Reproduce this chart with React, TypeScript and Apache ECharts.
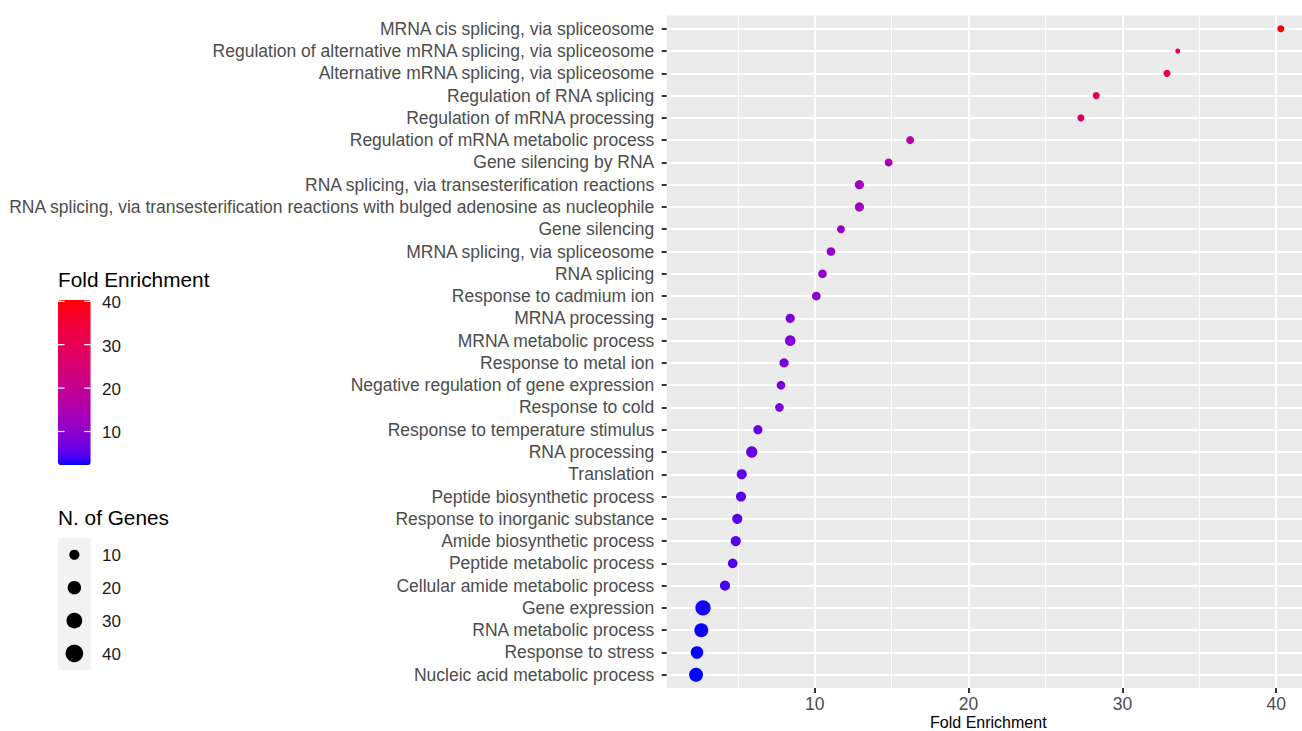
import { useEffect, useRef } from "react";
import * as echarts from "echarts";

const categories = [
  "MRNA cis splicing, via spliceosome",
  "Regulation of alternative mRNA splicing, via spliceosome",
  "Alternative mRNA splicing, via spliceosome",
  "Regulation of RNA splicing",
  "Regulation of mRNA processing",
  "Regulation of mRNA metabolic process",
  "Gene silencing by RNA",
  "RNA splicing, via transesterification reactions",
  "RNA splicing, via transesterification reactions with bulged adenosine as nucleophile",
  "Gene silencing",
  "MRNA splicing, via spliceosome",
  "RNA splicing",
  "Response to cadmium ion",
  "MRNA processing",
  "MRNA metabolic process",
  "Response to metal ion",
  "Negative regulation of gene expression",
  "Response to cold",
  "Response to temperature stimulus",
  "RNA processing",
  "Translation",
  "Peptide biosynthetic process",
  "Response to inorganic substance",
  "Amide biosynthetic process",
  "Peptide metabolic process",
  "Cellular amide metabolic process",
  "Gene expression",
  "RNA metabolic process",
  "Response to stress",
  "Nucleic acid metabolic process",
];

const foldEnrichment = [
  40.3, 33.6, 32.9, 28.3, 27.3, 16.2, 14.8, 12.9, 12.9, 11.7, 11.05, 10.5, 10.1, 8.4, 8.4, 8.0, 7.8,
  7.7, 6.3, 5.9, 5.25, 5.2, 4.96, 4.86, 4.66, 4.16, 2.73, 2.62, 2.34, 2.28,
];

const geneCounts = [
  5, 4, 5, 5, 5, 6, 6, 8, 8, 6, 7, 7, 7, 8, 11, 8, 7, 7, 8, 13, 10, 10, 10, 10, 9, 10, 28, 22, 17, 22,
];

const xTicks = [10, 20, 30, 40];
const xMinorTicks = [5, 15, 25, 35];
const colorLegendTicks = [10, 20, 30, 40];
const sizeLegendValues = [10, 20, 30, 40];

const FE_MIN = 2.28;
const FE_MAX = 40.3;
const LOW_COLOR = "#0000FF";
const HIGH_COLOR = "#FF0000";

// ---- Lab interpolation (like ggplot's scale_colour_gradient) ----
const Xn = 0.95047, Yn = 1.0, Zn = 1.08883;
const toLin = (c: number) => {
  const v = c / 255;
  return v <= 0.04045 ? v / 12.92 : Math.pow((v + 0.055) / 1.055, 2.4);
};
const toSrgb = (c: number) => {
  const x = Math.max(0, Math.min(1, c));
  const v = x <= 0.0031308 ? 12.92 * x : 1.055 * Math.pow(x, 1 / 2.4) - 0.055;
  return Math.round(Math.max(0, Math.min(1, v)) * 255);
};
const fLab = (t: number) => (t > 0.008856 ? Math.cbrt(t) : 7.787 * t + 16 / 116);
const fInv = (t: number) => (t > 0.206893 ? t * t * t : (t - 16 / 116) / 7.787);
function hexToLab(hex: string) {
  const r = toLin(parseInt(hex.slice(1, 3), 16));
  const g = toLin(parseInt(hex.slice(3, 5), 16));
  const b = toLin(parseInt(hex.slice(5, 7), 16));
  const X = 0.4124 * r + 0.3576 * g + 0.1805 * b;
  const Y = 0.2126 * r + 0.7152 * g + 0.0722 * b;
  const Z = 0.0193 * r + 0.1192 * g + 0.9505 * b;
  const fy = fLab(Y / Yn);
  return [116 * fy - 16, 500 * (fLab(X / Xn) - fy), 200 * (fy - fLab(Z / Zn))];
}
function labToHex(L: number, a: number, bb: number) {
  const fy = (L + 16) / 116;
  const fx = fy + a / 500;
  const fz = fy - bb / 200;
  const X = Xn * fInv(fx), Y = Yn * fInv(fy), Z = Zn * fInv(fz);
  const r = 3.2406 * X - 1.5372 * Y - 0.4986 * Z;
  const g = -0.9689 * X + 1.8758 * Y + 0.0415 * Z;
  const b = 0.0557 * X - 0.204 * Y + 1.057 * Z;
  const h = (n: number) => toSrgb(n).toString(16).padStart(2, "0");
  return "#" + h(r) + h(g) + h(b);
}
function labRamp(c1: string, c2: string, n: number) {
  const a = hexToLab(c1), b = hexToLab(c2);
  const out: string[] = [];
  for (let i = 0; i < n; i++) {
    const t = i / (n - 1);
    out.push(labToHex(a[0] + (b[0] - a[0]) * t, a[1] + (b[1] - a[1]) * t, a[2] + (b[2] - a[2]) * t));
  }
  return out;
}
const rampColors = labRamp(LOW_COLOR, HIGH_COLOR, 25);

// size scale (diameter in px)
const sizeOf = (n: number) => 5 + 2.1 * Math.sqrt(Math.max(n - 4, 0));

const FONT = "'Liberation Sans', Arial, Helvetica, sans-serif";

// legend layout
const CB_LEFT = 58, CB_TOP = 300, CB_W = 32.7, CB_H = 165;
const SL_TOP = 538.3, SL_KEY = 32.9;

export default function App() {
  const ref = useRef<HTMLDivElement>(null);
  useEffect(() => {
    if (!ref.current) return;
    const chart = echarts.init(ref.current, undefined, { renderer: "svg" });
    const idx = categories.map((_, i) => i);
    const cbY = (v: number) => CB_TOP + CB_H - ((v - FE_MIN) / (FE_MAX - FE_MIN)) * CB_H;

    const graphic: any[] = [
      {
        type: "text",
        left: CB_LEFT,
        top: 269,
        style: { text: "Fold Enrichment", fontSize: 20.8, fontFamily: FONT, fill: "#000" },
      },
      ...colorLegendTicks.flatMap((v) => [
        {
          type: "line",
          shape: { x1: CB_LEFT, y1: cbY(v), x2: CB_LEFT + CB_W / 5, y2: cbY(v) },
          style: { stroke: "#fff", lineWidth: 1.2 },
          z: 100,
        },
        {
          type: "line",
          shape: { x1: CB_LEFT + CB_W - CB_W / 5, y1: cbY(v), x2: CB_LEFT + CB_W, y2: cbY(v) },
          style: { stroke: "#fff", lineWidth: 1.2 },
          z: 100,
        },
        {
          type: "text",
          x: 102,
          y: cbY(v) + 1.5,
          style: {
            text: String(v),
            fontSize: 17,
            fontFamily: FONT,
            fill: "#1A1A1A",
            verticalAlign: "middle",
            align: "left",
          },
          z: 100,
        },
      ]),
      {
        type: "text",
        left: CB_LEFT,
        top: 507,
        style: { text: "N. of Genes", fontSize: 20.8, fontFamily: FONT, fill: "#000" },
      },
      {
        type: "rect",
        shape: { x: CB_LEFT, y: SL_TOP, width: CB_W, height: SL_KEY * sizeLegendValues.length },
        style: { fill: "#F2F2F2" },
      },
      ...sizeLegendValues.flatMap((v, i) => [
        {
          type: "circle",
          shape: { cx: CB_LEFT + CB_W / 2, cy: SL_TOP + SL_KEY * (i + 0.5), r: sizeOf(v) / 2 },
          style: { fill: "#000" },
        },
        {
          type: "text",
          x: 102,
          y: SL_TOP + SL_KEY * (i + 0.5) + 1,
          style: {
            text: String(v),
            fontSize: 17,
            fontFamily: FONT,
            fill: "#1A1A1A",
            verticalAlign: "middle",
            align: "left",
          },
        },
      ]),
    ];

    chart.setOption({
      animation: false,
      textStyle: { fontFamily: FONT },
      grid: {
        left: 666.7,
        right: -8,
        top: 15.4,
        bottom: 731 - 688.1,
        show: true,
        backgroundColor: "#EBEBEB",
        borderWidth: 0,
        containLabel: false,
        outerBoundsMode: "none",
      },
      xAxis: [
        {
          type: "value",
          min: 0.37,
          max: 42.2,
          axisLine: { show: false, onZero: false },
          axisTick: {
            show: true,
            customValues: xTicks,
            length: 5,
            lineStyle: { color: "#333333", width: 2 },
          },
          axisLabel: {
            customValues: xTicks,
            color: "#4D4D4D",
            fontSize: 17.5,
            margin: 7,
            fontFamily: FONT,
          },
          splitLine: { show: true, lineStyle: { color: "#FFFFFF", width: 2 } },
          name: "Fold Enrichment",
          nameLocation: "middle",
          nameGap: 26,
          nameMoveOverlap: false,
          nameTextStyle: { color: "#000", fontSize: 16, fontFamily: FONT },
        },
        {
          type: "value",
          min: 0.37,
          max: 42.2,
          position: "bottom",
          axisLine: { show: false, onZero: false },
          axisTick: { show: false, customValues: xMinorTicks },
          axisLabel: { show: false, customValues: xMinorTicks },
          splitLine: { show: true, lineStyle: { color: "#FFFFFF", width: 1 } },
        },
      ],
      yAxis: {
        type: "value",
        inverse: true,
        min: -0.6,
        max: categories.length - 1 + 0.6,
        axisLine: { show: false, onZero: false },
        axisTick: {
          show: true,
          customValues: idx,
          length: 5,
          lineStyle: { color: "#333333", width: 2 },
        },
        axisLabel: {
          customValues: idx,
          formatter: (v: number) => categories[Math.round(v)] ?? "",
          color: "#4D4D4D",
          fontSize: 17.5,
          margin: 12.5,
          fontFamily: FONT,
        },
        splitLine: { show: true, lineStyle: { color: "#FFFFFF", width: 2 } },
      },
      visualMap: {
        type: "continuous",
        show: true,
        min: FE_MIN,
        max: FE_MAX,
        dimension: 0,
        seriesIndex: 0,
        inRange: { color: rampColors },
        left: CB_LEFT,
        top: CB_TOP,
        itemWidth: CB_W,
        itemHeight: CB_H,
        padding: 0,
        calculable: false,
        hoverLink: false,
        orient: "vertical",
        text: undefined,
        showLabel: false,
      },
      series: [
        {
          type: "scatter",
          xAxisIndex: 0,
          yAxisIndex: 0,
          data: categories.map((c, i) => [foldEnrichment[i], i, geneCounts[i], c]),
          symbol: "circle",
          symbolSize: (v: number[]) => sizeOf(v[2]),
          itemStyle: { opacity: 1 },
          z: 10,
        },
      ],
      graphic,
    });
    return () => chart.dispose();
  }, []);
  return (
    <div
      ref={ref}
      style={{ position: "absolute", left: 0, top: 0, width: 1302, height: 731, background: "#fff" }}
    />
  );
}
